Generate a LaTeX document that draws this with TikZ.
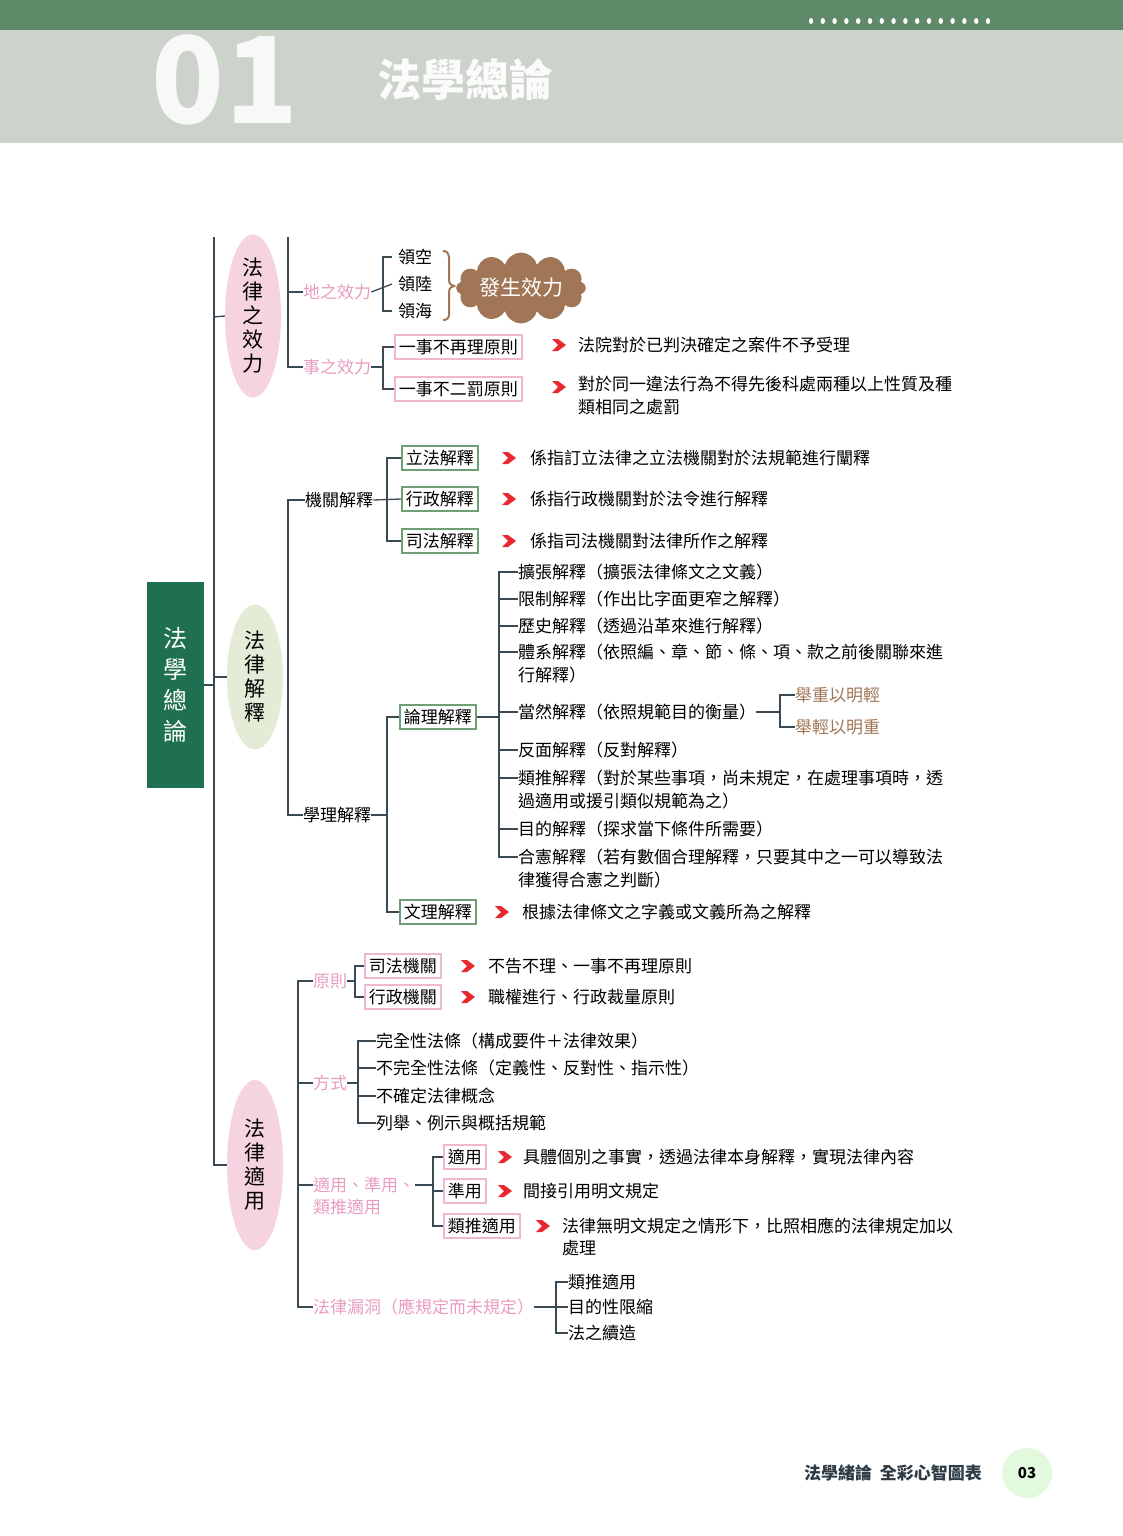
\documentclass[tikz,border=0pt]{standalone}
\usepackage{fontspec}
\setmainfont{Noto Sans CJK TC}
\usetikzlibrary{shapes.geometric,shapes.symbols,calc}
\definecolor{topgreen}{HTML}{5E8A6A}
\definecolor{bandgray}{HTML}{CCD3CA}
\definecolor{rootgreen}{HTML}{1E7050}
\definecolor{linegray}{HTML}{3A4A55}
\definecolor{pinktext}{HTML}{E89CC0}
\definecolor{pinkline}{HTML}{F0B8CE}
\definecolor{pinkfill}{HTML}{F6D3E0}
\definecolor{greenfill}{HTML}{E4EBD6}
\definecolor{greenline}{HTML}{6F9F74}
\definecolor{brown}{HTML}{A07656}
\definecolor{arrowred}{HTML}{E8282E}
\tikzset{
  txt/.style={anchor=west, inner sep=0pt, font=\fontsize{17}{20}\selectfont},
  plab/.style={txt, text=pinktext},
  blab/.style={txt, text=brown},
  pbox/.style={txt, draw=pinkline, line width=1.6pt, inner sep=4pt},
  gbox/.style={txt, draw=greenline, line width=1.6pt, inner sep=4pt},
  oval/.style={ellipse, minimum width=56pt, align=center, inner sep=0pt,
    font=\fontsize{21}{24}\selectfont},
  conn/.style={draw=linegray, line width=1.3pt},
  chev/.pic={\fill[arrowred] (0,-6) -- (6,-6) -- (14,0) -- (6,6) -- (0,6) -- (6,0) -- cycle;}
}
\begin{document}
\begin{tikzpicture}[x=1pt,y=-1pt]
\useasboundingbox (0,0) rectangle (1123,1536);
% header
\fill[bandgray] (0,30) rectangle (1123,143);
\fill[topgreen] (0,0) rectangle (1123,30);
\foreach \i in {0,...,15} \fill[white] (811+\i*11.8,21) ellipse (2.2pt and 3pt);
\node[font=\fontsize{120}{120}\selectfont\bfseries, text=white!85!bandgray, inner sep=0pt] (num) at (225,80) {01};
\node[font=\fontsize{44}{44}\selectfont\bfseries, text=white!90!bandgray, inner sep=0pt] (title) at (465,80) {法學總論};

% root and main branches
\node[fill=rootgreen, text=white, minimum width=57pt, minimum height=206pt, align=center,
  font=\fontsize{24}{31}\selectfont] (root) at (175.5,685) {法\\學\\總\\論};
\node[oval, fill=pinkfill, minimum height=150pt] (e1) at (253,316) {法\\律\\之\\效\\力};
\node[oval, fill=greenfill, minimum height=145pt] (e2) at (255,677) {法\\律\\解\\釋};
\node[oval, fill=pinkfill, minimum height=170pt] (e3) at (255,1165) {法\\律\\適\\用};
\draw[conn] (214,237) |- (e3.west);
\draw[conn] (root.east) -- (214,685);
\draw[conn] (214,317) -- (e1.west);
\draw[conn] (214,677) -- (e2.west);

% 法律之效力
\node[plab] (di) at (303,292) {地之效力};
\node[plab] (shi) at (303,367) {事之效力};
\draw[conn] (288,237) |- (shi.west);
\draw[conn] (288,292) -- (di.west);
\node[txt] (k1) at (398,257) {領空};
\node[txt] (k2) at (398,284) {領陸};
\node[txt] (k3) at (398,311) {領海};
\draw[conn] ($(k1.west)+(-6,0)$) -| (383,284) |- ($(k3.west)+(-6,0)$);
\draw[conn] (di.east) -- ($(k2.west)+(-6,0)$);
\draw[brown, line width=2pt] (443,251) .. controls (451,251) and (449,260) .. (449,275)
  .. controls (449,284) .. (454,286) .. controls (449,288) .. (449,297)
  .. controls (449,314) and (451,320) .. (443,320);
\node[cloud, cloud puffs=12, aspect=2.6, fill=brown, text=white, inner sep=2pt,
  font=\fontsize{21}{24}\selectfont] (eff) at (521,288) {發生效力};
\node[pbox] (r1) at (394,347) {一事不再理原則};
\node[pbox] (r2) at (394,389) {一事不二罰原則};
\draw[conn] (r1.west) -| (383,367) |- (r2.west);
\draw[conn] (shi.east) -- (383,367);
\pic at (552,345) {chev};
\pic at (552,387) {chev};
\node[txt] (d1) at (578,345) {法院對於已判決確定之案件不予受理};
\node[txt] (d2) at (578,384) {對於同一違法行為不得先後科處兩種以上性質及種};
\node[txt] (d2b) at (578,407) {類相同之處罰};

% 法律解釋
\node[txt] (jg) at (305,500) {機關解釋};
\node[txt] (xl) at (303,815) {學理解釋};
\draw[conn] (jg.west) -| (288,815) -- (xl.west);
\node[gbox] (a1) at (401,458) {立法解釋};
\node[gbox] (a2) at (401,499) {行政解釋};
\node[gbox] (a3) at (401,541) {司法解釋};
\draw[conn] (a1.west) -| (387,541) -- (a3.west);
\draw[conn] (jg.east) -- (a2.west);
\pic at (502,458) {chev};
\pic at (502,499) {chev};
\pic at (502,541) {chev};
\node[txt] (b1) at (530,458) {係指訂立法律之立法機關對於法規範進行闡釋};
\node[txt] (b2) at (530,499) {係指行政機關對於法令進行解釋};
\node[txt] (b3) at (530,541) {係指司法機關對法律所作之解釋};
\node[gbox] (lj) at (399,717) {論理解釋};
\node[gbox] (wj) at (399,912) {文理解釋};
\draw[conn] (lj.west) -| (387,912) -- (wj.west);
\draw[conn] (xl.east) -- (387,815);
\pic at (495,912) {chev};
\node[txt] (w1) at (522,912) {根據法律條文之字義或文義所為之解釋};
\node[txt] (m1) at (518,572) {擴張解釋（擴張法律條文之文義）};
\node[txt] (m2) at (518,599) {限制解釋（作出比字面更窄之解釋）};
\node[txt] (m3) at (518,626) {歷史解釋（透過沿革來進行解釋）};
\node[txt] (m4) at (518,652) {體系解釋（依照編、章、節、條、項、款之前後關聯來進};
\node[txt] (m4b) at (518,675) {行解釋）};
\node[txt] (m5) at (518,712) {當然解釋（依照規範目的衡量）};
\node[txt] (m6) at (518,750) {反面解釋（反對解釋）};
\node[txt] (m7) at (518,778) {類推解釋（對於某些事項，尚未規定，在處理事項時，透};
\node[txt] (m7b) at (518,801) {過適用或援引類似規範為之）};
\node[txt] (m8) at (518,829) {目的解釋（探求當下條件所需要）};
\node[txt] (m9) at (518,857) {合憲解釋（若有數個合理解釋，只要其中之一可以導致法};
\node[txt] (m9b) at (518,880) {律獲得合憲之判斷）};
\coordinate (mx) at (499,0);
\draw[conn] (m1.west) -| (499,857) -- (m9.west);
\foreach \n in {m2,m3,m4,m5,m6,m7,m8} \draw[conn] (mx |- \n.west) -- (\n.west);
\draw[conn] (lj.east) -- (499,717);
\node[blab] (h1) at (795,695) {舉重以明輕};
\node[blab] (h2) at (795,727) {舉輕以明重};
\draw[conn] (h1.west) -| (780,727) -- (h2.west);
\draw[conn] (m5.east) -- (780,712);

% 法律適用
\node[plab] (yz) at (313,981) {原則};
\node[plab] (fs) at (313,1083) {方式};
\node[plab] (sy) at (313,1185) {適用、準用、};
\node[plab] (syb) at (313,1207) {類推適用};
\node[plab] (ld) at (313,1307) {法律漏洞（應規定而未規定）};
\draw[conn] (yz.west) -| (298,1307) -- (ld.west);
\draw[conn] (298,1083) -- (fs.west);
\draw[conn] (298,1185) -- (sy.west);
\node[pbox] (c1) at (364,966) {司法機關};
\node[pbox] (c2) at (364,997) {行政機關};
\draw[conn] (c1.west) -| (355,997) -- (c2.west);
\draw[conn] (yz.east) -- (355,981);
\pic at (461,966) {chev};
\pic at (461,997) {chev};
\node[txt] (c1d) at (488,966) {不告不理、一事不再理原則};
\node[txt] (c2d) at (488,997) {職權進行、行政裁量原則};
\node[txt] (f1) at (376,1041) {完全性法條（構成要件＋法律效果）};
\node[txt] (f2) at (376,1068) {不完全性法條（定義性、反對性、指示性）};
\node[txt] (f3) at (376,1096) {不確定法律概念};
\node[txt] (f4) at (376,1123) {列舉、例示與概括規範};
\draw[conn] (f1.west) -| (358,1123) -- (f4.west);
\draw[conn] (358,1068) -- (f2.west);
\draw[conn] (358,1096) -- (f3.west);
\draw[conn] (fs.east) -- (358,1083);
\node[pbox] (u1) at (443,1157) {適用};
\node[pbox] (u2) at (443,1191) {準用};
\node[pbox] (u3) at (443,1226) {類推適用};
\draw[conn] (u1.west) -| (433,1226) -- (u3.west);
\draw[conn] (sy.east) -- (433,1185) (433,1191) -- (u2.west);
\pic at (498,1157) {chev};
\pic at (498,1191) {chev};
\pic at (536,1226) {chev};
\node[txt] (u1d) at (523,1157) {具體個別之事實，透過法律本身解釋，實現法律內容};
\node[txt] (u2d) at (523,1191) {間接引用明文規定};
\node[txt] (u3d) at (562,1226) {法律無明文規定之情形下，比照相應的法律規定加以};
\node[txt] (u3db) at (562,1248) {處理};
\node[txt] (g1) at (568,1282) {類推適用};
\node[txt] (g2) at (568,1307) {目的性限縮};
\node[txt] (g3) at (568,1333) {法之續造};
\draw[conn] (g1.west) -| (556,1333) -- (g3.west);
\draw[conn] (ld.east) -- (g2.west);

% footer
\node[font=\fontsize{17}{20}\selectfont\bfseries, text=linegray!80!black, anchor=east, inner sep=0pt] (foot) at (982,1473) {法學緒論\ \ 全彩心智圖表};
\node[circle, fill=greenfill!80!green!40, minimum size=50pt, inner sep=0pt,
  font=\fontsize{15}{15}\selectfont\bfseries] (pg) at (1027,1473) {03};
\end{tikzpicture}
\end{document}
